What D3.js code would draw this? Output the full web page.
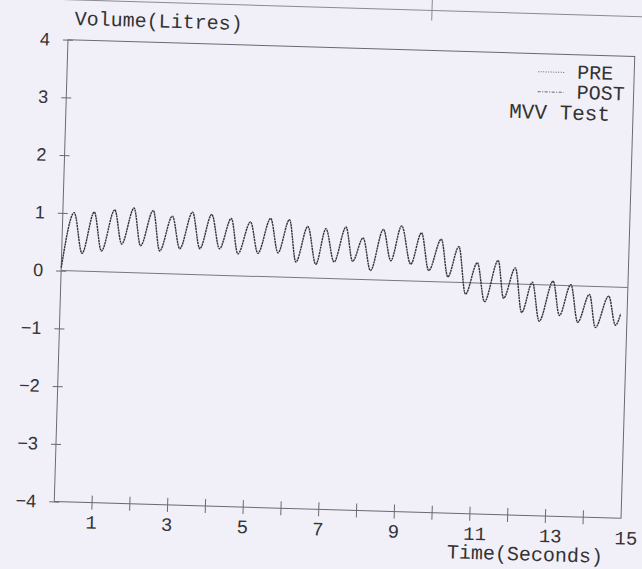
<!DOCTYPE html>
<html>
<head>
<meta charset="utf-8">
<script src="https://cdn.jsdelivr.net/npm/d3@7"></script>
<style>
  body { margin: 0; background: #f1eff8; }
  svg { display: block; }
</style>
</head>
<body>
<svg id="chart" width="642" height="569"></svg>
<script>
// breathing trace (peaks and troughs)
const times = [0.00, 0.30, 0.54, 0.83, 1.05, 1.37, 1.58, 1.88, 2.08, 2.39, 2.59, 2.90, 3.12, 3.43, 3.65,
  3.94, 4.17, 4.46, 4.66, 4.97, 5.19, 5.50, 5.72, 6.00, 6.20, 6.49, 6.73, 6.97, 7.21, 7.50, 7.70,
  7.96, 8.18, 8.49, 8.71, 8.97, 9.24, 9.50, 9.72, 10.03, 10.23, 10.50, 10.71, 11.00, 11.22, 11.55,
  11.72, 12.01, 12.21, 12.47, 12.68, 13.02, 13.21, 13.49, 13.70, 13.99, 14.17, 14.50, 14.70, 14.83]
const volumes = [0.05, 1.01, 0.31, 1.03, 0.36, 1.08, 0.49, 1.12, 0.47, 1.09, 0.39, 1.00, 0.44, 1.08, 0.45,
  1.05, 0.46, 0.99, 0.38, 0.94, 0.40, 1.01, 0.42, 1.00, 0.27, 0.89, 0.24, 0.86, 0.29, 0.90, 0.31,
  0.72, 0.16, 0.88, 0.34, 0.95, 0.29, 0.84, 0.19, 0.74, 0.09, 0.62, -0.20, 0.35, -0.32, 0.40,
  -0.25, 0.28, -0.49, 0.04, -0.63, 0.07, -0.52, 0.02, -0.63, -0.14, -0.71, -0.16, -0.66, -0.46]

const yTicks = [-4, -3, -2, -1, 0, 1, 2, 3, 4]
const xTicks = [1, 2, 3, 4, 5, 6, 7, 8, 9, 10, 11, 12, 13, 14]
const xLabels = [1, 3, 5, 7, 9, 11, 13, 15]
const legendNames = ['PRE', 'POST']
const legendDash = ['1,1.5', '3,1.5,1,1.5']

const L = 61, R = 628, T = 48, B = 510
const ink = '#333'
const mono = '"Liberation Mono", "DejaVu Sans Mono", monospace'
const sans = '"Liberation Sans", Arial, sans-serif'

const x = d3.scaleLinear().domain([0, 15]).range([L, R])
const y = d3.scaleLinear().domain([-4, 4]).range([B, T])

const svg = d3.select('#chart')

svg.append('rect')
  .attr('width', 642).attr('height', 569)
  .attr('fill', '#f1eff8')

// the scan is a little crooked
const g = svg.append('g').attr('transform', 'rotate(1.7, 344, 279)')

// edge of the sheet above
g.append('line').attr('x1', -20).attr('x2', 680).attr('y1', 8).attr('y2', 8)
  .attr('stroke', '#8a8a90').attr('stroke-width', 1)
g.append('line').attr('x1', 424).attr('x2', 424).attr('y1', -10).attr('y2', 18)
  .attr('stroke', '#8a8a90').attr('stroke-width', 1)

// frame
g.append('rect')
  .attr('x', L).attr('y', T)
  .attr('width', R - L).attr('height', B - T)
  .attr('fill', 'none')
  .attr('stroke', '#6a6a6e')
  .attr('stroke-width', 1)

// zero line
g.append('line')
  .attr('x1', L).attr('x2', R)
  .attr('y1', y(0)).attr('y2', y(0))
  .attr('stroke', '#77777c').attr('stroke-width', 1)

// y axis
const yAxis = d3.axisLeft(y).tickValues(yTicks).tickSize(5).tickPadding(13)
const ya = g.append('g').attr('transform', `translate(${L},0)`).call(yAxis)
ya.select('.domain').remove()
ya.selectAll('.tick line').attr('x2', 5).attr('x1', -5).attr('stroke', '#6a6a6e')
ya.selectAll('.tick text')
  .attr('x', -18)
  .attr('fill', ink)
  .style('font-family', sans)
  .style('font-size', '18px')

// x axis
const xa = g.append('g').attr('transform', `translate(0,${B})`)
xa.selectAll('line.xt')
  .data(xTicks)
  .enter().append('line')
  .attr('class', 'xt')
  .attr('x1', d => x(d)).attr('x2', d => x(d))
  .attr('y1', -7).attr('y2', 7)
  .attr('stroke', '#6a6a6e')
xa.selectAll('text.xl')
  .data(xLabels)
  .enter().append('text')
  .attr('class', 'xl')
  .attr('x', d => x(d) - 6)
  .attr('y', 26)
  .attr('fill', ink)
  .style('font-family', mono)
  .style('font-size', '19px')
  .text(d => d)

// axis titles
g.append('text')
  .attr('x', 67).attr('y', 33)
  .attr('fill', ink)
  .style('font-family', mono).style('font-size', '20px')
  .text('Volume(Litres)')
g.append('text')
  .attr('x', 611).attr('y', 555)
  .attr('text-anchor', 'end')
  .attr('fill', ink)
  .style('font-family', mono).style('font-size', '20px')
  .text('Time(Seconds)')

// trace
const points = times.map((t, i) => [t, volumes[i]])
const line = d3.line()
  .x(d => x(d[0]))
  .y(d => y(d[1]))
  .curve(d3.curveMonotoneX)

g.append('path')
  .datum(points)
  .attr('d', line)
  .attr('fill', 'none')
  .attr('stroke', '#333336')
  .attr('stroke-width', 1.4)
  .attr('stroke-dasharray', '2.2,0.6')

// legend
const leg = g.append('g')
legendNames.forEach((name, i) => {
  leg.append('line')
    .attr('x1', 532).attr('x2', 558)
    .attr('y1', 66 + i * 20).attr('y2', 66 + i * 20)
    .attr('stroke', '#66666a').attr('stroke-width', 1)
    .attr('stroke-dasharray', legendDash[i])
  leg.append('text')
    .attr('x', 571).attr('y', 72 + i * 20)
    .attr('fill', ink)
    .style('font-family', mono).style('font-size', '20px')
    .text(name)
})
leg.append('text')
  .attr('x', 605).attr('y', 113)
  .attr('text-anchor', 'end')
  .attr('fill', ink)
  .style('font-family', mono).style('font-size', '21px')
  .text('MVV Test')
</script>
</body>
</html>
